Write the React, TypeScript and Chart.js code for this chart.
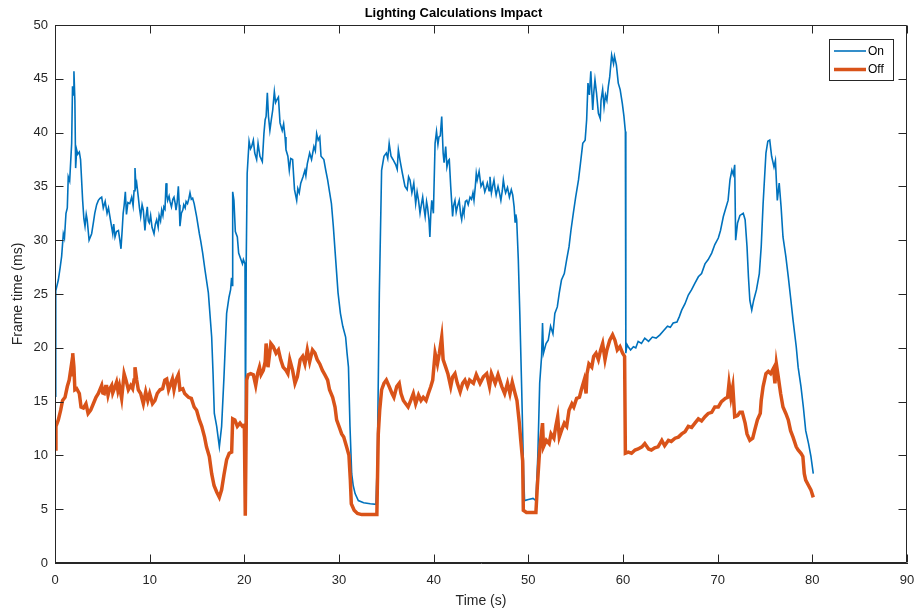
import React, { useEffect, useRef } from "react";
import { Chart, registerables } from "chart.js";

Chart.register(...registerables);

const TITLE = "Lighting Calculations Impact";
const X_LABEL = "Time (s)";
const Y_LABEL = "Frame time (ms)";
const SERIES_NAMES = ["On", "Off"];
const X_TICKS = [0, 10, 20, 30, 40, 50, 60, 70, 80, 90];
const Y_TICKS = [0, 5, 10, 15, 20, 25, 30, 35, 40, 45, 50];

const onT = [
  0, 0.08, 0.35, 0.55, 0.7, 0.88, 1.0, 1.16, 1.3, 1.4, 1.55, 1.76, 1.85, 1.92, 2.0, 2.1, 2.18, 2.29, 2.4, 2.57,
  2.7, 2.92, 3.05, 3.17, 3.3, 3.4, 3.6, 3.87, 4.05, 4.2, 4.4, 4.58, 4.75, 4.93, 5.1, 5.3, 5.5, 5.65, 5.8, 5.95,
  6.1, 6.2, 6.34, 6.5, 6.7, 6.85, 6.97, 7.1, 7.2, 7.3, 7.43, 7.55, 7.7, 7.9, 8.1, 8.25, 8.35, 8.45, 8.55, 8.63,
  8.8, 8.92, 9.05, 9.2, 9.33, 9.5, 9.62, 9.75, 9.85, 9.96, 10.1, 10.25, 10.46, 10.6, 10.74, 10.9, 11.0, 11.15, 11.27, 11.4,
  11.5, 11.62, 11.73, 11.82, 11.9, 12.05, 12.15, 12.3, 12.45, 12.57, 12.7, 12.78, 12.9, 13.03, 13.12, 13.2, 13.35, 13.5, 13.6, 13.75,
  13.85, 14.0, 14.15, 14.26, 14.4, 14.54, 14.7, 14.96, 15.25, 15.4, 15.6, 15.85, 16.2, 16.55, 16.7, 16.83, 17.08, 17.36, 17.6, 17.85,
  18.13, 18.38, 18.55, 18.65, 18.72, 18.77, 18.9, 19.05, 19.26, 19.4, 19.6, 19.8, 19.9, 20.07, 20.12, 20.2, 20.3, 20.5, 20.65, 20.77,
  20.95, 21.1, 21.3, 21.45, 21.65, 21.9, 22.07, 22.2, 22.3, 22.43, 22.55, 22.7, 22.85, 23.0, 23.17, 23.3, 23.4, 23.6, 23.77, 24.0,
  24.15, 24.3, 24.4, 24.6, 24.75, 24.9, 25.1, 25.3, 25.53, 25.65, 25.8, 25.96, 26.2, 26.4, 26.5, 26.65, 26.9, 27.1, 27.35, 27.5,
  27.64, 27.8, 27.97, 28.1, 28.4, 28.6, 28.8, 29.0, 29.2, 29.4, 29.6, 29.9, 30.15, 30.4, 30.7, 30.85, 31.0, 31.16, 31.34, 31.5,
  31.7, 32.04, 32.6, 33.3, 33.9, 34.05, 34.26, 34.5, 34.75, 35.0, 35.15, 35.3, 35.5, 35.7, 36.0, 36.15, 36.27, 36.45, 36.7, 36.97,
  37.2, 37.35, 37.5, 37.7, 37.9, 38.1, 38.25, 38.4, 38.56, 38.7, 38.84, 38.97, 39.1, 39.25, 39.35, 39.5, 39.6, 39.7, 39.8, 39.97,
  40.15, 40.3, 40.45, 40.56, 40.7, 40.85, 41.0, 41.1, 41.27, 41.4, 41.55, 41.65, 41.8, 42.0, 42.1, 42.25, 42.38, 42.5, 42.7, 42.85,
  42.96, 43.1, 43.2, 43.35, 43.5, 43.65, 43.84, 44.0, 44.15, 44.26, 44.4, 44.5, 44.6, 44.8, 45.0, 45.2, 45.4, 45.55, 45.67, 45.85,
  45.95, 46.1, 46.25, 46.37, 46.5, 46.6, 46.8, 46.95, 47.1, 47.25, 47.36, 47.5, 47.6, 47.8, 48.0, 48.2, 48.35, 48.5, 48.6, 48.68,
  48.77, 48.94, 49.1, 49.3, 49.5, 49.6, 50.0, 50.5, 50.8, 51.0, 51.2, 51.4, 51.5, 51.6, 51.87, 52.1, 52.35, 52.6, 52.8, 53.06,
  53.27, 53.5, 53.8, 54.05, 54.3, 54.5, 54.75, 55.0, 55.3, 55.5, 55.75, 56.0, 56.16, 56.3, 56.45, 56.6, 56.8, 56.92, 57.04, 57.2,
  57.4, 57.6, 57.68, 57.85, 58.0, 58.15, 58.3, 58.45, 58.6, 58.8, 59.0, 59.1, 59.3, 59.5, 59.7, 59.93, 60.1, 60.25, 60.3, 60.42,
  60.55, 60.8, 61.1, 61.35, 61.6, 61.95, 62.3, 62.7, 63.1, 63.5, 63.9, 64.3, 64.7, 65.0, 65.3, 65.7, 65.95, 66.2, 66.55, 66.9,
  67.25, 67.6, 67.96, 68.3, 68.66, 69.0, 69.37, 69.7, 70.07, 70.3, 70.6, 70.8, 71.1, 71.3, 71.5, 71.65, 71.8, 71.9, 72.1, 72.35,
  72.7, 72.9, 73.1, 73.25, 73.4, 73.6, 73.8, 74.1, 74.4, 74.6, 74.8, 75.1, 75.3, 75.5, 75.7, 75.95, 76.1, 76.3, 76.5, 76.7,
  76.9, 77.2, 77.46, 77.7, 77.96, 78.3, 78.5, 78.8, 79.05, 79.3, 79.6, 79.85, 80.1,
];
const onV = [
  15.5, 25.3, 26.3, 27.5, 28.5, 30.6, 30.2, 32.5, 33.0, 35.9, 35.5, 39.0, 44.3, 43.5, 45.7, 43.0, 36.7, 38.4, 38.0, 38.2,
  37.5, 33.7, 32.0, 31.3, 32.4, 31.9, 30.0, 30.6, 31.6, 32.5, 33.3, 33.7, 33.9, 34.0, 33.0, 33.6, 32.5, 33.0, 32.2, 31.4,
  30.6, 31.5, 30.3, 30.8, 30.9, 30.0, 29.2, 31.0, 32.5, 33.2, 34.5, 32.4, 33.5, 33.4, 34.0, 33.2, 34.6, 36.7, 35.0, 35.3,
  34.0, 33.0, 32.2, 33.3, 32.8, 30.9, 32.2, 33.1, 31.8, 31.6, 32.3, 31.2, 30.6, 31.5, 31.9, 31.2, 32.3, 31.8, 32.8, 32.3,
  33.1, 32.9, 35.3, 34.2, 33.7, 34.1, 33.6, 33.1, 33.8, 34.0, 33.4, 32.8, 33.5, 35.0, 33.3, 31.3, 32.5, 32.8, 33.3, 33.0,
  33.6, 33.4, 33.9, 34.4, 33.8, 33.9, 33.4, 32.2, 30.6, 29.9, 28.8, 27.2, 25.1, 21.0, 17.5, 13.9, 12.7, 10.8, 12.7, 17.3,
  23.2, 24.7, 25.4, 26.5, 25.8, 34.5, 33.7, 30.8, 30.3, 28.8, 28.3, 27.8, 28.2, 27.8, 13.0, 28.0, 36.2, 39.2, 38.5, 38.7,
  39.3, 38.1, 37.5, 39.0, 37.8, 37.3, 39.9, 41.2, 41.5, 43.7, 41.5, 40.2, 41.2, 42.1, 43.8, 42.8, 43.0, 43.3, 40.9, 40.2,
  40.8, 39.6, 38.4, 37.8, 36.5, 37.6, 37.5, 34.7, 33.7, 34.8, 34.4, 35.3, 35.9, 36.5, 36.0, 37.1, 38.1, 37.5, 38.7, 38.3,
  39.9, 39.3, 39.6, 37.8, 37.5, 36.5, 35.6, 34.5, 33.4, 31.3, 28.8, 25.1, 23.2, 22.0, 21.0, 19.5, 18.2, 12.7, 8.3, 7.2,
  6.45, 5.8, 5.6, 5.5, 5.45, 9.5, 25.0, 36.5, 37.8, 38.1, 37.6, 39.0, 37.8, 37.5, 37.0, 36.6, 38.4, 37.4, 36.2, 35.0,
  34.7, 35.9, 35.6, 34.4, 35.3, 33.4, 34.5, 33.7, 32.5, 33.3, 34.0, 33.0, 32.2, 33.6, 33.1, 31.9, 30.3, 32.5, 33.7, 32.5,
  39.0, 40.1, 38.9, 39.6, 39.7, 41.5, 38.1, 37.2, 38.7, 36.8, 37.4, 37.5, 35.0, 32.2, 33.2, 33.7, 32.6, 33.1, 33.7, 32.4,
  31.9, 32.9, 32.5, 33.6, 33.7, 33.3, 34.0, 33.8, 34.4, 33.7, 35.0, 36.2, 35.6, 36.4, 35.0, 35.4, 34.5, 34.9, 35.3, 34.6,
  35.9, 34.4, 35.1, 35.6, 34.7, 34.2, 35.0, 34.4, 33.7, 34.6, 35.6, 34.8, 34.4, 34.9, 34.0, 34.7, 34.2, 33.1, 31.7, 32.4,
  31.9, 28.2, 23.2, 16.1, 8.3, 5.8, 5.9, 6.0, 5.8, 9.9, 16.7, 19.2, 22.3, 19.5, 20.4, 20.7, 22.0, 21.3, 23.2, 23.8,
  25.1, 26.3, 26.9, 28.2, 29.4, 30.9, 32.5, 34.0, 35.6, 37.1, 39.0, 39.3, 41.2, 44.6, 43.5, 45.7, 42.1, 43.8, 44.9, 43.7,
  41.8, 41.3, 43.0, 44.0, 42.4, 43.5, 43.0, 44.3, 45.2, 47.2, 46.4, 47.1, 46.3, 44.6, 44.0, 42.7, 41.5, 40.1, 19.5, 20.3,
  20.1, 19.8, 20.1, 20.0, 20.6, 20.4, 20.9, 20.6, 21.0, 20.9, 21.2, 21.6, 22.0, 21.9, 22.3, 22.4, 22.9, 23.5, 24.1, 24.9,
  25.4, 26.0, 26.6, 26.9, 27.8, 28.2, 28.8, 29.6, 30.2, 30.9, 32.2, 32.8, 33.7, 35.6, 36.5, 36.1, 37.0, 30.0, 31.6, 32.3,
  32.5, 31.9, 29.4, 26.6, 24.4, 23.5, 24.4, 25.4, 26.9, 29.4, 33.4, 38.1, 39.2, 39.3, 37.8, 36.8, 37.4, 33.7, 35.3, 33.1,
  30.3, 28.5, 26.6, 24.7, 22.6, 20.1, 18.2, 16.4, 14.5, 12.3, 11.1, 9.9, 8.3,
];

const offT = [
  0, 0.1, 0.35, 0.6, 0.8, 1.06, 1.3, 1.5, 1.7, 1.8, 1.87, 2.0, 2.1, 2.29, 2.57, 2.75, 3.0, 3.27, 3.5, 3.77,
  4.05, 4.33, 4.58, 4.93, 5.05, 5.2, 5.35, 5.46, 5.6, 5.74, 5.99, 6.1, 6.27, 6.5, 6.65, 6.8, 7.04, 7.2, 7.3, 7.5,
  7.75, 8.0, 8.2, 8.35, 8.45, 8.63, 8.8, 9.05, 9.33, 9.58, 9.8, 10.0, 10.3, 10.56, 10.8, 11.1, 11.37, 11.6, 11.8, 12.0,
  12.2, 12.4, 12.57, 12.78, 13.03, 13.2, 13.5, 13.7, 14.1, 14.4, 14.7, 14.96, 15.25, 15.5, 15.8, 16.0, 16.3, 16.55, 16.8, 17.08,
  17.36, 17.6, 17.85, 18.13, 18.4, 18.66, 18.77, 19.0, 19.26, 19.54, 19.8, 20.0, 20.1, 20.25, 20.4, 20.67, 20.95, 21.2, 21.4, 21.6,
  21.76, 22.0, 22.2, 22.3, 22.5, 22.8, 23.06, 23.35, 23.6, 23.84, 24.1, 24.4, 24.6, 24.8, 25.1, 25.35, 25.6, 25.9, 26.16, 26.4,
  26.65, 26.9, 27.2, 27.46, 27.7, 27.97, 28.25, 28.5, 28.8, 29.0, 29.33, 29.58, 29.75, 30.0, 30.28, 30.5, 30.8, 31.05, 31.2, 31.3,
  31.6, 31.95, 32.4, 33.1, 34.0, 34.15, 34.3, 34.5, 34.75, 35.0, 35.3, 35.6, 35.8, 36.1, 36.36, 36.55, 36.8, 37.05, 37.3, 37.57,
  37.85, 38.1, 38.4, 38.66, 38.9, 39.2, 39.44, 39.7, 39.9, 40.15, 40.4, 40.6, 40.85, 41.0, 41.27, 41.5, 41.8, 42.0, 42.25, 42.5,
  42.8, 43.06, 43.3, 43.56, 43.8, 44.2, 44.5, 44.9, 45.25, 45.6, 45.9, 46.1, 46.5, 46.8, 47.2, 47.5, 47.8, 48.06, 48.3, 48.6,
  48.8, 49.05, 49.2, 49.4, 49.47, 49.8, 50.35, 50.8, 50.95, 51.15, 51.3, 51.5, 51.6, 51.9, 52.2, 52.4, 52.7, 52.9, 53.1, 53.27,
  53.5, 53.8, 54.05, 54.3, 54.6, 54.8, 55.1, 55.4, 55.6, 55.9, 56.1, 56.2, 56.4, 56.7, 56.9, 57.15, 57.4, 57.64, 57.85, 58.1,
  58.3, 58.6, 58.9, 59.15, 59.4, 59.68, 59.96, 60.17, 60.25, 60.56, 60.9, 61.27, 61.6, 62.0, 62.3, 62.7, 63.0, 63.35, 63.7, 64.1,
  64.4, 64.8, 65.1, 65.5, 65.85, 66.2, 66.55, 66.9, 67.25, 67.6, 67.96, 68.3, 68.66, 69.0, 69.37, 69.7, 70.07, 70.4, 70.8, 71.05,
  71.2, 71.4, 71.6, 71.8, 72.1, 72.35, 72.6, 72.9, 73.1, 73.4, 73.7, 73.9, 74.2, 74.5, 74.6, 74.8, 75.1, 75.35, 75.6, 75.9,
  76.05, 76.2, 76.4, 76.65, 76.9, 77.2, 77.46, 77.7, 77.96, 78.3, 78.5, 78.8, 79.0, 79.15, 79.3, 79.6, 79.85, 80.1,
];
const offV = [
  10.6, 12.7, 13.3, 14.2, 15.1, 15.4, 16.4, 17.0, 18.2, 17.5, 19.5, 18.2, 16.1, 16.2, 15.75, 14.5, 14.4, 14.8, 13.9, 14.2,
  14.8, 15.4, 15.75, 16.5, 15.8, 15.75, 16.4, 16.4, 15.6, 16.1, 16.5, 15.8, 16.2, 16.8, 16.0, 16.5, 15.3, 16.7, 17.6, 17.0,
  16.1, 16.5, 16.2, 17.0, 18.2, 17.0, 16.1, 15.75, 14.8, 15.9, 15.1, 15.75, 14.8, 15.1, 15.75, 16.1, 16.2, 17.0, 17.1, 16.1,
  16.6, 17.1, 16.1, 17.0, 17.5, 16.1, 16.2, 15.75, 15.4, 15.3, 14.5, 14.2, 13.3, 12.7, 11.7, 10.8, 9.9, 8.3, 7.2, 6.6,
  6.1, 6.8, 8.2, 9.6, 10.2, 10.3, 13.4, 13.3, 12.7, 13.0, 12.7, 12.8, 4.4, 17.0, 17.5, 17.6, 17.5, 16.5, 17.6, 18.2,
  17.5, 17.9, 18.7, 20.4, 18.2, 20.4, 20.1, 19.5, 19.8, 18.9, 18.2, 17.9, 17.6, 18.9, 17.9, 16.7, 17.3, 18.9, 19.2, 18.5,
  19.8, 18.7, 19.8, 19.5, 18.9, 18.5, 17.9, 17.5, 17.0, 16.1, 15.4, 14.5, 13.3, 12.7, 12.0, 11.7, 10.8, 10.0, 7.7, 5.5,
  4.9, 4.6, 4.5, 4.5, 4.5, 12.0, 14.2, 16.1, 16.7, 17.0, 16.4, 15.75, 15.4, 16.4, 16.7, 15.75, 15.1, 14.8, 14.5, 15.1,
  15.75, 14.8, 15.6, 15.1, 15.4, 15.1, 15.75, 16.4, 17.0, 19.5, 18.5, 19.5, 21.0, 18.9, 18.2, 17.6, 16.4, 17.3, 17.6, 16.7,
  15.9, 16.7, 17.0, 16.4, 17.0, 16.7, 17.5, 16.7, 17.3, 17.6, 16.4, 17.6, 16.7, 17.5, 16.4, 15.75, 16.7, 15.75, 16.8, 15.75,
  15.1, 13.0, 11.4, 9.5, 4.9, 4.7, 4.7, 4.7, 7.1, 9.9, 11.4, 13.0, 10.8, 11.4, 11.1, 12.0, 11.6, 12.7, 13.6, 11.7,
  12.3, 13.0, 12.7, 14.2, 14.8, 14.5, 15.3, 15.4, 16.1, 17.0, 15.75, 17.6, 18.5, 18.2, 19.2, 19.5, 18.9, 19.8, 20.4, 18.9,
  19.8, 20.7, 21.2, 20.7, 19.8, 20.1, 19.5, 19.2, 10.2, 10.3, 10.2, 10.5, 10.6, 10.8, 11.1, 10.6, 10.5, 10.7, 10.8, 11.4,
  10.9, 11.4, 11.3, 11.6, 11.7, 12.0, 12.2, 12.7, 12.6, 13.0, 13.4, 13.2, 13.6, 13.9, 14.0, 14.5, 14.5, 15.0, 15.3, 15.4,
  16.7, 15.4, 16.4, 13.6, 13.7, 14.0, 14.0, 13.0, 12.0, 11.4, 11.6, 12.3, 13.3, 13.9, 15.1, 16.4, 17.6, 17.8, 17.6, 18.1,
  16.7, 18.5, 17.3, 15.75, 14.5, 13.9, 13.3, 12.3, 11.7, 10.8, 10.5, 10.2, 9.9, 8.3, 7.7, 7.2, 6.8, 6.1,
];

const COLORS = ["#0072BD", "#D95319"];
const FONT = "'Liberation Sans', Arial, Helvetica, sans-serif";
const AXIS_COLOR = "#262626";

const toPoints = (t: number[], v: number[]) => t.map((x, i) => ({ x, y: v[i] }));

const framePlugin = {
  id: "matlabFrame",
  afterDatasetsDraw(chart: any) {
    const { ctx, chartArea: a, scales } = chart;
    const xs = scales.x;
    const ys = scales.y;
    const L = Math.round(a.left) + 0.5;
    const R = Math.round(a.right) - 0.5;
    const T = Math.round(a.top) + 0.5;
    const B = Math.round(a.bottom) - 0.5;
    const tick = 8;
    ctx.save();
    ctx.strokeStyle = AXIS_COLOR;
    ctx.lineWidth = 1;
    ctx.beginPath();
    ctx.moveTo(L, T);
    ctx.lineTo(R, T);
    ctx.lineTo(R, B);
    ctx.lineTo(L, B);
    ctx.lineTo(L, T);
    X_TICKS.forEach((v) => {
      const px = Math.round(xs.getPixelForValue(v)) + 0.5;
      ctx.moveTo(px, B);
      ctx.lineTo(px, B - tick);
      ctx.moveTo(px, T);
      ctx.lineTo(px, T + tick);
    });
    Y_TICKS.forEach((v) => {
      const py = Math.round(ys.getPixelForValue(v)) + 0.5;
      ctx.moveTo(L, py);
      ctx.lineTo(L + tick, py);
      ctx.moveTo(R, py);
      ctx.lineTo(R - tick, py);
    });
    ctx.stroke();

    // legend box
    const lx = 829.5, ly = 39.5, lw = 64, lh = 41;
    ctx.fillStyle = "#ffffff";
    ctx.fillRect(lx, ly, lw, lh);
    ctx.strokeRect(lx, ly, lw, lh);
    const rows = [51, 69.5];
    const widths = [1.6, 3.5];
    SERIES_NAMES.forEach((name, i) => {
      ctx.beginPath();
      ctx.strokeStyle = COLORS[i];
      ctx.lineWidth = widths[i];
      ctx.moveTo(834, rows[i]);
      ctx.lineTo(866, rows[i]);
      ctx.stroke();
      ctx.fillStyle = "#000000";
      ctx.font = `12px ${FONT}`;
      ctx.textAlign = "left";
      ctx.textBaseline = "middle";
      ctx.fillText(name, 868, rows[i] + 0.5);
    });
    ctx.restore();
  },
};

export default function App() {
  const ref = useRef<HTMLCanvasElement | null>(null);
  useEffect(() => {
    if (!ref.current) return;
    const chart = new Chart(ref.current, {
      type: "line",
      data: {
        datasets: [
          {
            label: SERIES_NAMES[0],
            data: toPoints(onT, onV),
            borderColor: COLORS[0],
            backgroundColor: COLORS[0],
            borderWidth: 1.6,
            pointRadius: 0,
            tension: 0,
            order: 1,
          },
          {
            label: SERIES_NAMES[1],
            data: toPoints(offT, offV),
            borderColor: COLORS[1],
            backgroundColor: COLORS[1],
            borderWidth: 3.5,
            pointRadius: 0,
            tension: 0,
            order: 0,
          },
        ],
      },
      options: {
        animation: false,
        responsive: false,
        devicePixelRatio: 1,
        layout: { padding: { left: 0, right: 10, top: 0, bottom: 0 } },
        plugins: {
          legend: { display: false },
          tooltip: { enabled: false },
          title: {
            display: true,
            text: TITLE,
            color: "#000000",
            font: { family: FONT, size: 13, weight: "bold", lineHeight: 1.2 },
            padding: { top: 6, bottom: 3.4 },
          },
        },
        scales: {
          x: {
            type: "linear",
            min: 0,
            max: 90,
            afterBuildTicks: (s: any) => {
              s.ticks = X_TICKS.map((value) => ({ value }));
            },
            afterFit: (s: any) => {
              s.height = 50;
              s.paddingLeft = 0;
              s.paddingRight = 0;
            },
            grid: { display: false, drawTicks: false },
            border: { display: true, color: AXIS_COLOR, width: 1 },
            ticks: {
              color: AXIS_COLOR,
              font: { family: FONT, size: 13 },
              padding: 10,
              maxRotation: 0,
              autoSkip: false,
            },
            title: {
              display: true,
              text: X_LABEL,
              color: AXIS_COLOR,
              font: { family: FONT, size: 14 },
              padding: { top: 0, bottom: 3.6 },
            },
          },
          y: {
            type: "linear",
            min: 0,
            max: 50,
            afterBuildTicks: (s: any) => {
              s.ticks = Y_TICKS.map((value) => ({ value }));
            },
            afterFit: (s: any) => {
              s.width = 55;
              s.paddingTop = 0;
              s.paddingBottom = 0;
            },
            grid: { display: false, drawTicks: false },
            border: { display: true, color: AXIS_COLOR, width: 1 },
            ticks: {
              color: AXIS_COLOR,
              font: { family: FONT, size: 13 },
              padding: 7,
              autoSkip: false,
            },
            title: {
              display: true,
              text: Y_LABEL,
              color: AXIS_COLOR,
              font: { family: FONT, size: 14 },
              padding: { top: 9.6, bottom: 0 },
            },
          },
        },
      },
      plugins: [framePlugin],
    });
    return () => chart.destroy();
  }, []);
  return (
    <div style={{ position: "fixed", left: 0, top: 0, width: 917, height: 613, background: "#fff" }}>
      <canvas ref={ref} width={917} height={613} />
    </div>
  );
}
